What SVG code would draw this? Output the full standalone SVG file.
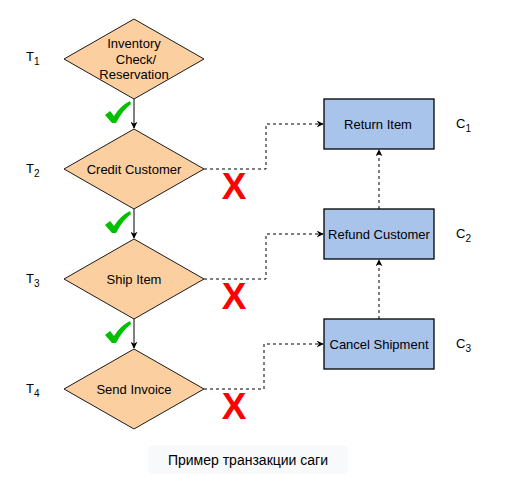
<svg xmlns="http://www.w3.org/2000/svg" width="511" height="478" viewBox="0 0 511 478">
<style>
.d{fill:#fccfa0;stroke:#1a1a1a;stroke-width:1}
.r{fill:#a9c4eb;stroke:#000;stroke-width:1.3}
.t{font-family:"Liberation Sans",Arial,sans-serif;font-size:13px;fill:#000;text-anchor:middle}
.lab{font-family:"Liberation Sans",Arial,sans-serif;font-size:13px;fill:#000}
.sub{font-size:10px}
.solid{fill:none;stroke:#000;stroke-width:1}
.dash{fill:none;stroke:#000;stroke-width:1;stroke-dasharray:3 3}
.x{font-family:"Liberation Sans",Arial,sans-serif;font-size:37px;font-weight:bold;fill:#ff0000;text-anchor:middle}
.chk{fill:#00c000}
</style>
<defs>
<marker id="a" viewBox="0 0 10 10" refX="9" refY="5" markerWidth="7" markerHeight="7" orient="auto" markerUnits="userSpaceOnUse">
<path d="M0,0 L10,5 L0,10 L3,5 z" fill="#000"/>
</marker>
<path id="ck" d="M0,14 L5,10 L9,15 Q15,5 25,0 L26,3 Q17,10 11,22 L7,22 Z"/>
</defs>
<rect x="0" y="0" width="511" height="478" fill="#fff"/>
<g id="connectors">
<path class="solid" d="M134,99 V128" marker-end="url(#a)"/>
<path class="solid" d="M134,209 V238" marker-end="url(#a)"/>
<path class="solid" d="M134,319 V348" marker-end="url(#a)"/>
<path class="dash" d="M204,169 H266 V124 H323" marker-end="url(#a)"/>
<path class="dash" d="M204,279 H266 V234 H323" marker-end="url(#a)"/>
<path class="dash" d="M204,389 H264 V344 H323" marker-end="url(#a)"/>
<path class="dash" d="M379,319 V260" marker-end="url(#a)"/>
<path class="dash" d="M379,209 V150" marker-end="url(#a)"/>
</g>
<g id="t1">
<polygon class="d" points="134,19 204,59 134,99 64,59"/>
<text class="t" x="134" y="48">Inventory</text>
<text class="t" x="136" y="64">Check/</text>
<text class="t" x="134" y="79">Reservation</text>
<text class="lab" x="26" y="61">T<tspan class="sub" dy="4">1</tspan></text>
</g>
<g id="t2">
<polygon class="d" points="134,129 204,169 134,209 64,169"/>
<text class="t" x="134" y="174">Credit Customer</text>
<text class="lab" x="26" y="173">T<tspan class="sub" dy="4">2</tspan></text>
</g>
<g id="t3">
<polygon class="d" points="134,239 204,279 134,319 64,279"/>
<text class="t" x="134" y="284">Ship Item</text>
<text class="lab" x="26" y="283">T<tspan class="sub" dy="4">3</tspan></text>
</g>
<g id="t4">
<polygon class="d" points="134,349 204,389 134,429 64,389"/>
<text class="t" x="134" y="394">Send Invoice</text>
<text class="lab" x="26" y="393">T<tspan class="sub" dy="4">4</tspan></text>
</g>
<g id="c1">
<rect class="r" x="324" y="99" width="110" height="50"/>
<text class="t" x="378" y="129">Return Item</text>
<text class="lab" x="456" y="128">C<tspan class="sub" dy="4">1</tspan></text>
</g>
<g id="c2">
<rect class="r" x="324" y="209" width="110" height="50"/>
<text class="t" x="379" y="239">Refund Customer</text>
<text class="lab" x="456" y="238">C<tspan class="sub" dy="4">2</tspan></text>
</g>
<g id="c3">
<rect class="r" x="324" y="319" width="110" height="50"/>
<text class="t" x="379" y="349">Cancel Shipment</text>
<text class="lab" x="456" y="348">C<tspan class="sub" dy="4">3</tspan></text>
</g>
<g id="marks">
<use href="#ck" class="chk" x="105" y="101"/>
<use href="#ck" class="chk" x="105" y="211"/>
<use href="#ck" class="chk" x="105" y="321"/>
<text class="x" x="234" y="199">X</text>
<text class="x" x="234" y="309">X</text>
<text class="x" x="234" y="419">X</text>
</g>
<g id="caption">
<rect x="148" y="445" width="200" height="29" rx="5" fill="#f8f9fb"/>
<text class="t" x="248" y="465" style="font-size:14px">Пример транзакции саги</text>
</g>
</svg>
